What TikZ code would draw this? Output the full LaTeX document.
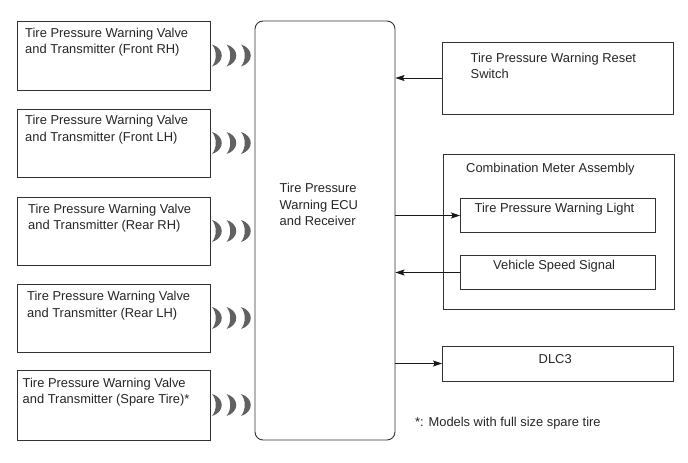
\documentclass[tikz,border=0pt]{standalone}
\usepackage{fontspec}
\setmainfont{Liberation Sans}
\usetikzlibrary{arrows.meta}
\tikzset{
  box/.style={draw=black!80, line width=0.9pt, rectangle, inner sep=0pt},
  txt/.style={anchor=north west, inner sep=0pt, align=left, text=black!85,
    font=\fontsize{12.9}{16.5}\selectfont},
  conn/.style={draw=black!90, line width=1pt, -{Stealth[length=9pt,width=6pt,inset=1.5pt]}},
  crescent/.style={fill=black!62},
}
\newcommand{\wavesat}[1]{%
  \foreach \wx in {212,226.5,241}{
    \fill[crescent] (\wx,#1-11) .. controls (\wx+13,#1-7) and (\wx+13,#1+7) .. (\wx,#1+11)
      .. controls (\wx+5,#1+5) and (\wx+5,#1-5) .. cycle;
  }}
\begin{document}
\begin{tikzpicture}[x=1pt,y=-1pt]
\useasboundingbox[fill=white] (0,0) rectangle (688,463);
% left transmitter boxes
\node[box, minimum width=193pt, minimum height=69pt] (t1) at (113.5,55.5) {};
\node[box, minimum width=193pt, minimum height=68pt] (t2) at (113.5,143) {};
\node[box, minimum width=193pt, minimum height=68pt] (t3) at (113.5,231) {};
\node[box, minimum width=193pt, minimum height=68pt] (t4) at (113.5,318) {};
\node[box, minimum width=193pt, minimum height=70pt] (t5) at (113.5,405) {};
\node[txt] (t1t) at (25,27.5) {Tire Pressure Warning Valve\\and Transmitter (Front RH)};
\node[txt] (t2t) at (25,115) {Tire Pressure Warning Valve\\and Transmitter (Front LH)};
\node[txt] (t3t) at (28,203.5) {Tire Pressure Warning Valve\\and Transmitter (Rear RH)};
\node[txt] (t4t) at (27,291) {Tire Pressure Warning Valve\\and Transmitter (Rear LH)};
\node[txt] (t5t) at (22.5,377.5) {Tire Pressure Warning Valve\\and Transmitter (Spare Tire)*};
% waves
\wavesat{55.5}
\wavesat{143}
\wavesat{231}
\wavesat{318}
\wavesat{405}
% ECU
\node[box, rounded corners=8pt, minimum width=140pt, minimum height=419pt] (ecu) at (325,230.5) {};
\node[txt] (ecut) at (279.5,183) {Tire Pressure\\Warning ECU\\and Receiver};
% reset switch
\node[box, minimum width=231pt, minimum height=72pt] (rs) at (558,78) {};
\node[txt] (rst) at (470.5,52.5) {Tire Pressure Warning Reset\\Switch};
% combination meter
\node[box, minimum width=231pt, minimum height=155pt] (cm) at (558.5,231.5) {};
\node[txt] (cmt) at (466,162.5) {Combination Meter Assembly};
\node[box, minimum width=195pt, minimum height=34pt] (wl) at (558,215.5) {};
\node[txt] (wlt) at (474.5,203) {Tire Pressure Warning Light};
\node[box, minimum width=195pt, minimum height=34pt] (vs) at (558,272.5) {};
\node[txt] (vst) at (493,259.5) {Vehicle Speed Signal};
% DLC3
\node[box, minimum width=231pt, minimum height=35pt] (dlc) at (558,363.5) {};
\node[txt] (dlct) at (538.5,354.5) {DLC3};
% footnote
\node[txt] (fn) at (415,416.5) {*: Models with full size spare tire};
% connectors
\draw[conn] (rs.west) -- (ecu.east |- rs.west);
\draw[conn] (ecu.east |- wl.west) -- (wl.west);
\draw[conn] (vs.west) -- (ecu.east |- vs.west);
\draw[conn] (ecu.east |- dlc.west) -- (dlc.west);
\end{tikzpicture}
\end{document}
